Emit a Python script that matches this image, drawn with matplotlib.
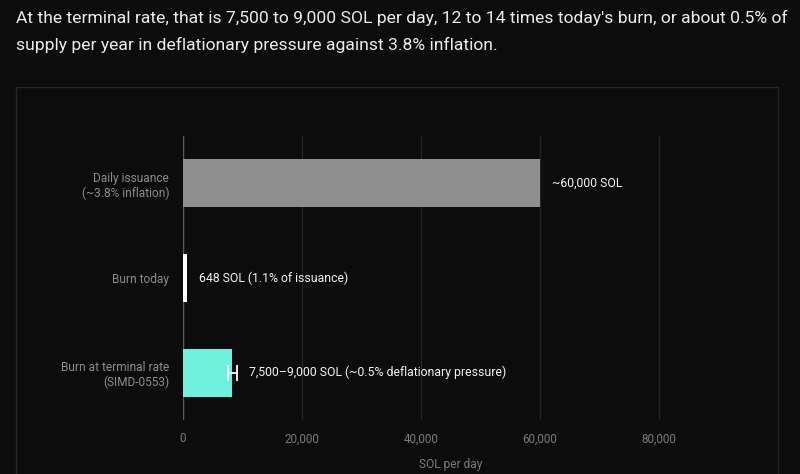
import numpy as np
import matplotlib
matplotlib.use("Agg")
import matplotlib.pyplot as plt
from matplotlib.patches import Rectangle

# chart values
categories = ["Daily issuance\n(~3.8% inflation)", "Burn today",
              "Burn at terminal rate\n(SIMD-0553)"]
values = [60000, 648, 8250]
range_low = [None, None, 7500]
range_high = [None, None, 9000]
value_labels = ["~60,000 SOL", "648 SOL (1.1% of issuance)",
                "7,500\u20139,000 SOL (~0.5% deflationary pressure)"]
bar_colors = ["#8e8e8e", "#ffffff", "#6ff0dc"]
x_ticks = [0, 20000, 40000, 60000, 80000]
x_tick_labels = ["0", "20,000", "40,000", "60,000", "80,000"]
title_lines = [
    "At the terminal rate, that is 7,500 to 9,000 SOL per day, 12 to 14 times today's burn, or about 0.5% of",
    "supply per year in deflationary pressure against 3.8% inflation.",
]

bg = "#0c0c0c"
plt.rcParams['font.family'] = ['Roboto', 'DejaVu Sans']

fig = plt.figure(figsize=(8, 4.74), dpi=100, facecolor=bg)

# panel box behind the chart
fig.patches.append(Rectangle((16 / 800, -0.05), 762 / 800, 1 - 87 / 474 + 0.05,
                             transform=fig.transFigure, facecolor="none",
                             edgecolor="#262626", linewidth=1, zorder=-10))

for k, yy in enumerate([18, 45]):
    fig.text(16 / 800, 1 - yy / 474, title_lines[k], color="#ececec",
             fontsize=12.6, va="center", ha="left")

ax = fig.add_axes([183 / 800, 1 - 420 / 474, (718 - 183) / 800, (420 - 136) / 474])
ax.set_facecolor("none")

y = np.arange(len(categories))
ax.barh(y, values, height=0.51, color=bar_colors, zorder=3)

for i in range(len(values)):
    end = values[i]
    if range_low[i] is not None:
        ax.errorbar(values[i], y[i],
                    xerr=[[values[i] - range_low[i]], [range_high[i] - values[i]]],
                    fmt="none", ecolor="#ffffff", elinewidth=1.3,
                    capsize=6, capthick=1.3, zorder=4)
        end = range_high[i]
    ax.annotate(value_labels[i], (end, y[i]), xytext=(9, 0),
                textcoords="offset points", va="center", ha="left",
                color="#f2f2f2", fontsize=8.8)

ax.set_ylim(len(categories) - 0.5, -0.5)
ax.set_xlim(0, 90000)
ax.set_yticks(y)
ax.set_yticklabels(categories, color="#8c8c8c", fontsize=8.6)
ax.set_xticks(x_ticks)
ax.set_xticklabels(x_tick_labels, color="#7a7a7a", fontsize=8.4)
ax.tick_params(axis="both", length=0)
ax.tick_params(axis="y", pad=10)
ax.tick_params(axis="x", pad=9)
ax.grid(axis="x", color="#242424", linewidth=1, zorder=0)
ax.axvline(0, color="#5a5a5a", linewidth=1, zorder=2)
for s in ax.spines.values():
    s.set_visible(False)

ax.set_xlabel("SOL per day", color="#7a7a7a", fontsize=8.6, labelpad=9)

fig.savefig("out.png", dpi=100, facecolor=bg)
